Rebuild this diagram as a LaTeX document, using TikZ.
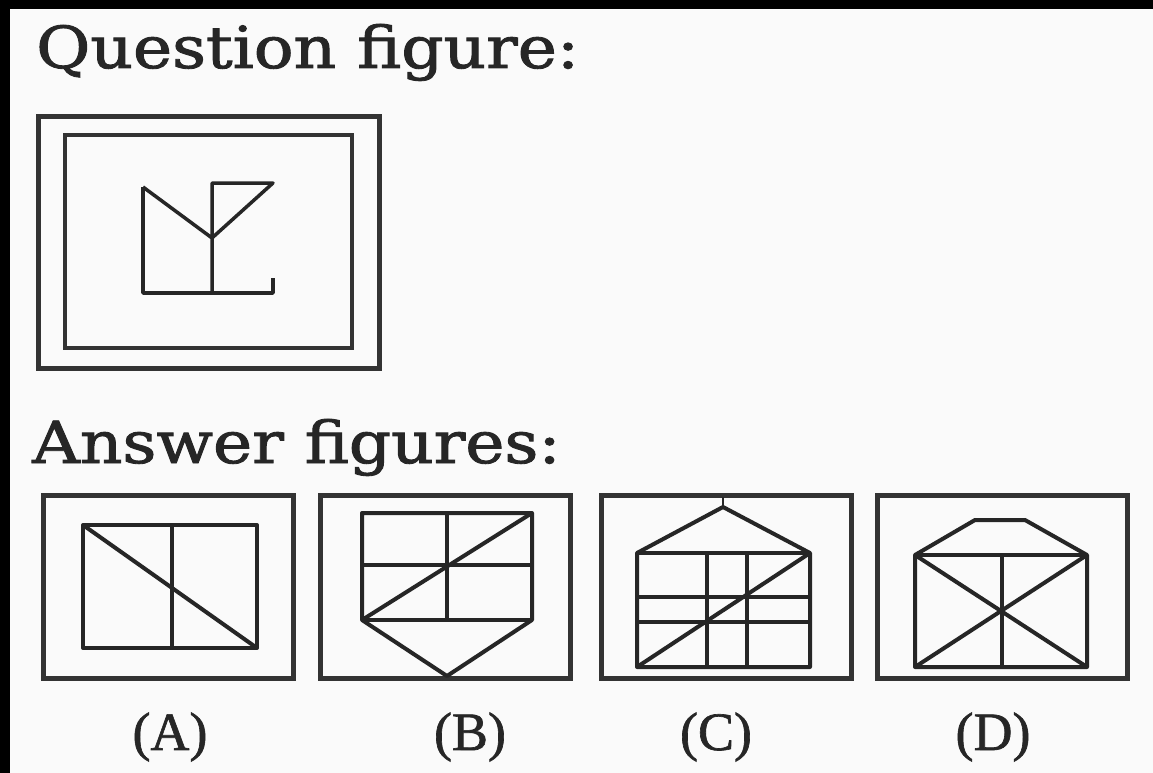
\documentclass[tikz,border=0pt]{standalone}
\usepackage{fontspec}
\setmainfont{Liberation Serif}[FakeBold=1.2]
\newfontfamily\headfont{DejaVu Serif}[FakeBold=1.5]

\begin{document}
\begin{tikzpicture}[x=1pt,y=-1pt,
  frame/.style={draw=black!80,line width=5pt},
  fig/.style={draw=black!85,line width=4pt,line join=round},
  head/.style={anchor=base west,inner sep=0pt,font=\headfont\fontsize{58}{58}\selectfont,text=black!85},
  lab/.style={inner sep=0pt,font=\fontsize{54}{54}\selectfont,text=black!85}]
  % page with the dark scan edge
  \fill[black!2] (0,0) rectangle (1153,773);
  \fill[black] (0,0) rectangle (1153,9);
  \fill[black] (0,0) rectangle (10,773);
  \node[head] (qtitle) at (36,68) {\scalebox{1.14}[1]{Question figure:}};
  \node[head] (atitle) at (32,463) {\scalebox{1.14}[1]{Answer figures:}};
  % question figure
  \draw[frame] (38,117) rectangle (379,368);
  \draw[frame,line width=4.5pt] (65,135) rectangle (352,348);
  \draw[fig,line width=3.5pt] (143,187) -- (143,293) -- (273,293) -- (273,278);
  \draw[fig,line width=3.5pt] (143,187) -- (212,238) -- (273,183) -- (212,183) -- (212,293);
  % answer frames
  \foreach \x in {43,320,601,877} \draw[frame] (\x,495) rectangle ++(250,183);
  % (A)
  \draw[fig] (83,525) rectangle (257,648);
  \draw[fig] (172,525) -- (172,648);
  \draw[fig] (83,525) -- (257,648);
  % (B)
  \draw[fig] (362,513) -- (532,513) -- (532,620) -- (447,676) -- (362,620) -- cycle;
  \foreach \y in {565,620} \draw[fig] (362,\y) -- (532,\y);
  \draw[fig] (447,513) -- (447,620);
  \draw[fig] (362,620) -- (532,513);
  % (C)
  \draw[fig] (637,553) -- (723,507) -- (810,553) -- (810,667) -- (637,667) -- cycle;
  \draw[fig,line width=2pt] (723,497) -- (723,507);
  \foreach \y in {553,597,622} \draw[fig] (637,\y) -- (810,\y);
  \foreach \x in {707,747} \draw[fig] (\x,553) -- (\x,667);
  \draw[fig] (637,667) -- (810,553);
  % (D)
  \draw[fig] (915,555) -- (975,520) -- (1025,520) -- (1087,555) -- (1087,667) -- (915,667) -- cycle;
  \draw[fig] (915,555) -- (1087,555);
  \draw[fig] (1002,555) -- (1002,667);
  \draw[fig] (915,555) -- (1087,667);
  \draw[fig] (1087,555) -- (915,667);
  % labels
  \node[lab] (la) at (170,737) {(A)};
  \node[lab] (lb) at (470,737) {(B)};
  \node[lab] (lc) at (716,737) {(C)};
  \node[lab] (ld) at (993,737) {(D)};
\end{tikzpicture}
\end{document}
